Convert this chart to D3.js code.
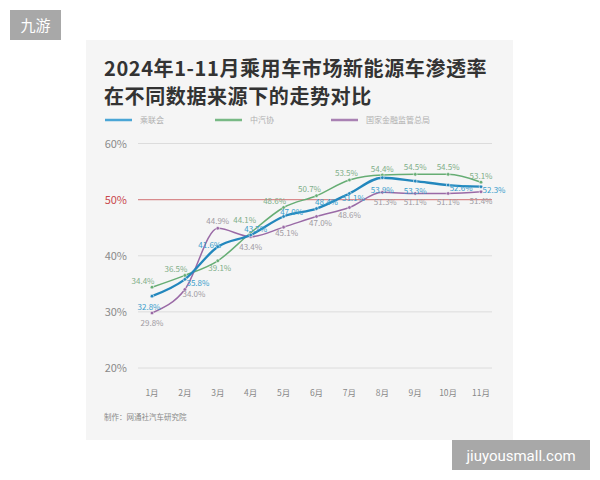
<!DOCTYPE html>
<html>
<head>
<meta charset="utf-8">
<script src="https://cdn.jsdelivr.net/npm/d3@7"></script>
<style>
  body { margin: 0; background: #fff; }
  svg { font-family: "Noto Sans CJK SC", "Noto Sans", sans-serif; }
</style>
</head>
<body>
<div id="chart"></div>
<script>
// data
var months = ["1月","2月","3月","4月","5月","6月","7月","8月","9月","10月","11月"];
var seriesNames = ["乘联会", "中汽协", "国家金融监管总局"];
var cpca = [32.8, 35.8, 41.6, 43.7, 47.0, 48.4, 51.1, 53.9, 53.3, 52.6, 52.3];
var caam = [34.4, 36.5, 39.1, 44.1, 48.6, 50.7, 53.5, 54.4, 54.5, 54.5, 53.1];
var nfra = [29.8, 34.0, 44.9, 43.4, 45.1, 47.0, 48.6, 51.3, 51.1, 51.1, 51.4];
var yTicks = [20, 30, 40, 50, 60];
var refValue = 50;

// label nudges [dx, dy] per point
var cpcaOff = [[-3,11],[13,4],[-8,-2],[5,-6],[8,-4],[10,-7],[4,5],[0,12],[0,10],[13,3],[13,3]];
var caamOff = [[-9,-6],[-9,-6],[2,7],[-6,-13],[-9,-6],[-7,-7],[-3,-7],[0,-6],[0,-7],[0,-7],[0,-6]];
var nfraOff = [[0,10],[9,5],[0,-7],[0,10],[3,6],[4,7],[0,8],[3,10],[0,9],[0,9],[0,9]];

var W = 600, H = 480;
var svg = d3.select("#chart").append("svg")
  .attr("width", W).attr("height", H);

// watermark top-left
svg.append("rect").attr("x", 10).attr("y", 10).attr("width", 51).attr("height", 30).attr("fill", "#a8a8a8");
svg.append("text").attr("x", 35.5).attr("y", 31).attr("text-anchor", "middle")
  .attr("fill", "#fff").attr("font-size", 15).text("九游");

// card
svg.append("rect").attr("x", 86).attr("y", 40).attr("width", 427).attr("height", 400).attr("fill", "#f5f5f5");

// title
var title = svg.append("g").attr("font-weight", "bold").attr("fill", "#333")
  .attr("font-size", 20).attr("letter-spacing", 0.6);
title.append("text").attr("x", 104).attr("y", 76).text("2024年1-11月乘用车市场新能源车渗透率");
title.append("text").attr("x", 104).attr("y", 104).text("在不同数据来源下的走势对比");

var colors = ["#2387bd", "#66ad74", "#9a6aa6"];
var legendColors = ["#4aa6d6", "#78b985", "#a981b3"];
var labelColors = ["#3a9dcc", "#7fae88", "#a09aa2"];

// legend
var legX = [105, 215, 331];
seriesNames.forEach(function(n, i) {
  svg.append("line").attr("x1", legX[i]).attr("x2", legX[i] + 27)
    .attr("y1", 120).attr("y2", 120)
    .attr("stroke", legendColors[i]).attr("stroke-width", 2.5);
  svg.append("text").attr("x", legX[i] + 35).attr("y", 123)
    .attr("font-size", 8).attr("fill", "#b0b0b0").text(n);
});

// scales
var x = d3.scalePoint().domain(months).range([152, 481]);
var y = d3.scaleLinear().domain([20, 60]).range([368, 143.5]);

// grid
svg.append("g").selectAll("line").data(yTicks.filter(function(t){ return t !== refValue; }))
  .enter().append("line")
    .attr("x1", 138).attr("x2", 492)
    .attr("y1", function(d){ return y(d); }).attr("y2", function(d){ return y(d); })
    .attr("stroke", "#dcdcdc").attr("stroke-width", 1);

svg.append("line")
  .attr("x1", 138).attr("x2", 492)
  .attr("y1", y(refValue)).attr("y2", y(refValue))
  .attr("stroke", "#d88a8c").attr("stroke-width", 1.2);

// y labels
svg.append("g").selectAll("text").data(yTicks).enter().append("text")
  .attr("x", 127).attr("y", function(d){ return y(d) + 4; })
  .attr("text-anchor", "end").attr("font-size", 11)
  .attr("fill", function(d){ return d === refValue ? "#c9484c" : "#8a8a8a"; })
  .text(function(d){ return d + "%"; });

// x labels
svg.append("g").selectAll("text").data(months).enter().append("text")
  .attr("x", function(d){ return x(d); }).attr("y", 396)
  .attr("text-anchor", "middle").attr("font-size", 8.5).attr("fill", "#888")
  .text(function(d){ return d; });

var line = d3.line()
  .x(function(d, i){ return x(months[i]); })
  .y(function(d){ return y(d); })
  .curve(d3.curveMonotoneX);

var all = [caam, nfra, cpca];
var allIdx = [1, 2, 0];
var widths = [1.5, 1.5, 2.3];
var offs = [caamOff, nfraOff, cpcaOff];

all.forEach(function(vals, k) {
  var ci = allIdx[k];
  svg.append("path").datum(vals)
    .attr("d", line).attr("fill", "none")
    .attr("stroke", colors[ci]).attr("stroke-width", widths[k]);
  svg.append("g").selectAll("circle").data(vals).enter().append("circle")
    .attr("cx", function(d, i){ return x(months[i]); })
    .attr("cy", function(d){ return y(d); })
    .attr("r", 1.8).attr("fill", colors[ci])
    .attr("stroke", "#f5f5f5").attr("stroke-width", 0.6);
});

all.forEach(function(vals, k) {
  var ci = allIdx[k];
  var o = offs[k];
  svg.append("g").selectAll("text").data(vals).enter().append("text")
    .attr("x", function(d, i){ return x(months[i]) + o[i][0]; })
    .attr("y", function(d, i){ return y(d) + o[i][1] + 3; })
    .attr("text-anchor", "middle").attr("font-size", 8)
    .attr("fill", labelColors[ci])
    .text(function(d){ return d.toFixed(1) + "%"; });
});

// footer
svg.append("text").attr("x", 104).attr("y", 420).attr("font-size", 7.5).attr("fill", "#888")
  .text("制作：网通社汽车研究院");

// watermark bottom-right
svg.append("rect").attr("x", 452).attr("y", 440).attr("width", 138).attr("height", 30).attr("fill", "#a8a8a8");
svg.append("text").attr("x", 521).attr("y", 461).attr("text-anchor", "middle")
  .attr("fill", "#fff").attr("font-size", 15).attr("font-family", "Roboto, sans-serif")
  .text("jiuyousmall.com");
</script>
</body>
</html>
